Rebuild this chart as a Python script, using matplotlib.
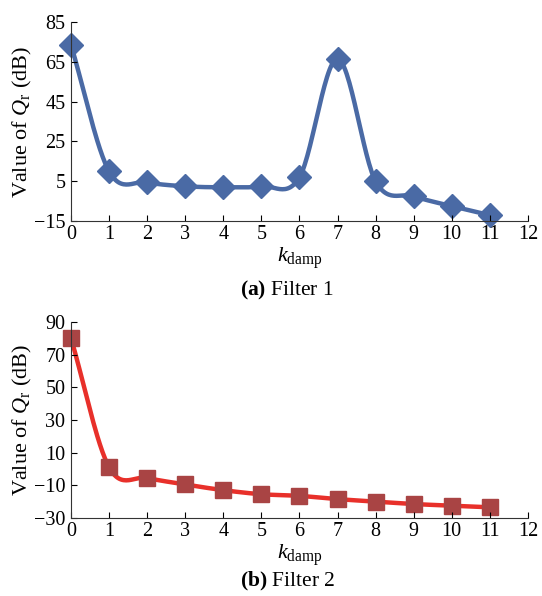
import numpy as np
import matplotlib.pyplot as plt

# data
k_damp = [0, 1, 2, 3, 4, 5, 6, 7, 8, 9, 10, 11]
qr_filter1 = [73.5, 10, 4.5, 2.5, 2, 2.5, 7, 66.5, 5, -2.5, -7.5, -12]
qr_filter2 = [80, 1, -5.5, -9.5, -13, -15.5, -16.5, -18.5, -20, -21.5, -22.5, -23.5]
xticks = list(range(0, 13))
yticks1 = [-15, 5, 25, 45, 65, 85]
yticks2 = [-30, -10, 10, 30, 50, 70, 90]

plt.rcParams["font.family"] = ["Liberation Serif", "DejaVu Serif"]
plt.rcParams["mathtext.fontset"] = "custom"
plt.rcParams["mathtext.rm"] = "Liberation Serif"
plt.rcParams["mathtext.it"] = "Liberation Serif:italic"
plt.rcParams["mathtext.bf"] = "Liberation Serif:bold"


def smooth(x, y, n=30):
    # Catmull-Rom curve through the points (like spreadsheet "smoothed line")
    x = np.asarray(x, float)
    y = np.asarray(y, float)
    px = np.concatenate([[2 * x[0] - x[1]], x, [2 * x[-1] - x[-2]]])
    py = np.concatenate([[2 * y[0] - y[1]], y, [2 * y[-1] - y[-2]]])
    xs, ys = [], []
    t = np.linspace(0, 1, n)
    for i in range(1, len(px) - 2):
        for p, out in ((px, xs), (py, ys)):
            p0, p1, p2, p3 = p[i - 1], p[i], p[i + 1], p[i + 2]
            out.extend(0.5 * (2 * p1 + (-p0 + p2) * t
                              + (2 * p0 - 5 * p1 + 4 * p2 - p3) * t ** 2
                              + (-p0 + 3 * p1 - 3 * p2 + p3) * t ** 3))
    return xs, ys


fig = plt.figure(figsize=(5.42, 5.96), dpi=100)
ax1 = fig.add_axes([0.131, 0.629, 0.843, 0.334])
ax2 = fig.add_axes([0.131, 0.131, 0.843, 0.329])

panels = [
    (ax1, qr_filter1, yticks1, "#4A6AA5", "#4A6AA5", "D", 12, "(a)", "Filter 1", 0.513),
    (ax2, qr_filter2, yticks2, "#E8302A", "#A94444", "s", 12, "(b)", "Filter 2", 0.024),
]

for ax, vals, yt, lc, mc, mk, ms, tag, name, cy in panels:
    sx, sy = smooth(k_damp, vals)
    ax.plot(sx, sy, color=lc, linewidth=3.2, zorder=1, clip_on=False)
    ax.plot(k_damp, vals, linestyle="none", marker=mk, markersize=ms,
            color=mc, markeredgecolor=mc, zorder=1.5, clip_on=False)
    ax.set_xlim(0, 12)
    ax.set_ylim(yt[0], yt[-1])
    ax.set_xticks(xticks)
    ax.set_yticks(yt)
    ax.tick_params(direction="in", length=4, width=0.8, labelsize=14.5)
    ax.tick_params(axis="x", pad=3)
    ax.tick_params(axis="y", pad=4)
    ax.spines["top"].set_visible(False)
    ax.spines["right"].set_visible(False)
    for s in ("left", "bottom"):
        ax.spines[s].set_color("#333333")
        ax.spines[s].set_zorder(3)
    ax.set_ylabel(r"Value of $\mathit{Q}_{\mathrm{r}}$ (dB)", fontsize=16, labelpad=0)
    ax.set_xlabel(r"$\mathit{k}_{\mathrm{damp}}$", fontsize=16, labelpad=1)
    fig.text(0.53, cy, r"$\mathbf{" + tag + "}$ " + name,
             ha="center", va="center", fontsize=15.5)

fig.savefig("out.png", dpi=100, facecolor="white")
